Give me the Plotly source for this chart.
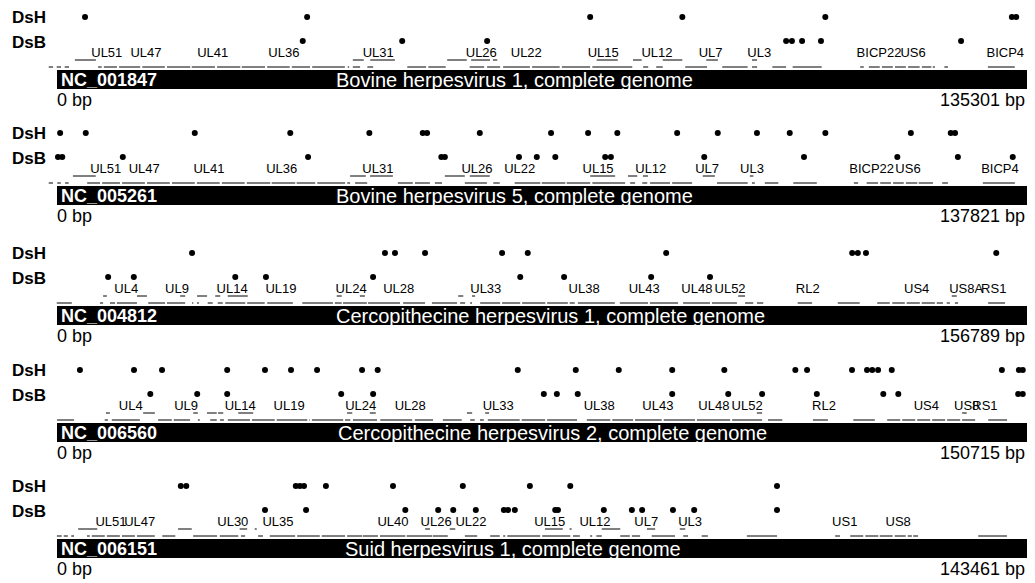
import plotly.graph_objects as go

# The page body has an 8 px margin, so the figure is drawn 8 px smaller and all
# reference pixel positions are shifted by that margin.
WIN_W, WIN_H, PAGE_MARGIN = 1035, 583, 8
WF, HF = WIN_W - PAGE_MARGIN, WIN_H - PAGE_MARGIN
AX_X0, AX_X1 = 48, 1030      # window-pixel extent of the genome coordinate axis
BAR_X0, BAR_X1 = 57, 1030    # window-pixel extent of the black genome banner


def px(xpix):
    return (xpix - PAGE_MARGIN) / WF


# ---------------- data (positions in kb) ----------------
accessions = ["NC_001847", "NC_005261", "NC_004812", "NC_006560", "NC_006151"]
titles = ["Bovine herpesvirus 1, complete genome",
          "Bovine herpesvirus 5, complete genome",
          "Cercopithecine herpesvirus 1, complete genome",
          "Cercopithecine herpesvirus 2, complete genome",
          "Suid herpesvirus 1, complete genome"]
genome_bp = [135301, 137821, 156789, 150715, 143461]

# Bovine herpesvirus 1
p1_dsh = [5.1, 35.7, 74.7, 87.4, 107.1, 132.8, 133.4]
p1_dsb = [35.1, 48.8, 60.5, 101.7, 102.5, 103.9, 106.5, 125.8]
p1_gene_names = ["UL51", "UL47", "UL41", "UL36", "UL31", "UL26", "UL22", "UL15", "UL12", "UL7", "UL3",
                 "BICP22", "US6", "BICP4"]
p1_gene_pos = [8.1, 13.5, 22.7, 32.5, 45.5, 59.7, 65.9, 76.5, 83.9, 91.3, 98.0, 114.5, 119.2, 131.9]
p1_genes_upper = [(3.7, 6.6), (42.0, 43.5), (44.4, 47.8), (55.0, 57.7), (58.3, 60.9), (61.3, 61.9),
                  (75.6, 78.5), (80.6, 81.8), (84.7, 87.4), (90.7, 92.3), (97.0, 97.7)]
p1_genes_lower = [(0.1, 0.7), (1.2, 1.8), (2.3, 2.9), (6.9, 7.4), (7.7, 9.5), (9.8, 12.7), (13.0, 16.1),
                  (16.4, 19.6), (19.8, 23.0), (23.3, 26.5), (26.7, 29.9), (30.2, 33.3), (33.6, 36.1),
                  (36.4, 40.9), (41.3, 41.5), (42.0, 43.0), (44.0, 44.8), (49.5, 52.1), (52.4, 54.8),
                  (58.1, 60.1), (60.5, 62.3), (62.7, 66.4), (66.7, 70.5), (70.8, 74.7), (75.0, 80.5),
                  (82.0, 82.7), (83.8, 84.7), (87.8, 90.8), (92.9, 96.4), (97.0, 97.7), (99.8, 101.7),
                  (102.6, 106.6), (111.9, 112.4), (113.1, 114.6), (114.9, 116.4), (116.7, 118.2),
                  (118.5, 120.1), (120.4, 121.7), (121.9, 122.2), (123.5, 124.0), (129.5, 133.2)]

# Bovine herpesvirus 5
p2_dsh = [1.7, 5.3, 20.6, 34.0, 45.1, 52.6, 53.2, 60.6, 70.6, 75.8, 79.9, 88.3, 94.0, 99.5, 104.1,
          109.1, 121.1, 126.7, 127.3]
p2_dsb = [1.4, 2.0, 10.5, 36.5, 55.2, 55.7, 66.1, 68.6, 71.2, 78.2, 79.0, 92.1, 106.1, 119.2, 127.7, 135.4]
p2_gene_names = ["UL51", "UL47", "UL41", "UL36", "UL31", "UL26", "UL22", "UL15", "UL12", "UL7", "UL3",
                 "BICP22", "US6", "BICP4"]
p2_gene_pos = [8.1, 13.5, 22.6, 32.8, 46.3, 60.2, 66.2, 77.2, 84.6, 92.5, 98.8, 115.6, 120.7, 133.6]
p2_genes_upper = [(3.5, 6.7), (42.4, 44.6), (45.2, 48.4), (55.7, 58.5), (59.2, 62.0), (76.1, 79.6),
                  (81.4, 82.7), (83.5, 84.2), (91.9, 93.6), (98.5, 99.0)]
p2_genes_lower = [(0.1, 0.7), (1.3, 1.8), (2.4, 2.9), (5.5, 7.3), (7.6, 10.1), (10.4, 13.6), (13.9, 17.1),
                  (17.4, 20.6), (20.9, 24.1), (24.4, 27.6), (27.9, 31.2), (31.4, 34.7), (34.9, 37.5),
                  (37.8, 41.7), (42.0, 42.4), (43.1, 44.8), (49.1, 51.2), (51.5, 53.6), (54.3, 55.3),
                  (58.5, 61.6), (62.5, 63.4), (65.5, 69.1), (69.3, 72.6), (72.8, 76.1), (76.4, 81.0),
                  (81.7, 82.4), (83.4, 84.1), (84.5, 87.3), (87.6, 90.4), (93.9, 98.2), (98.8, 99.2),
                  (100.6, 102.5), (104.6, 107.9), (113.1, 113.7), (114.9, 116.5), (116.8, 118.3),
                  (118.6, 120.1), (120.4, 122.0), (122.2, 124.2), (125.5, 126.3), (131.2, 135.7)]

# Cercopithecine herpesvirus 1
p3_dsh = [23.0, 53.8, 55.4, 60.2, 72.5, 76.6, 98.7, 128.4, 129.3, 130.6, 151.4]
p3_dsb = [9.6, 13.7, 29.9, 34.8, 51.9, 75.4, 82.4, 96.3, 105.7]
p3_gene_names = ["UL4", "UL9", "UL14", "UL19", "UL24", "UL28", "UL33", "UL38", "UL43", "UL48", "UL52",
                 "RL2", "US4", "US8A", "RS1"]
p3_gene_pos = [12.5, 20.6, 29.4, 37.2, 48.4, 56.0, 69.9, 85.6, 95.2, 103.6, 108.9, 121.3, 138.7, 146.6, 151.0]
p3_genes_upper = [(8.8, 9.4), (14.2, 15.8), (21.1, 21.9), (23.8, 25.4), (26.7, 27.5), (28.7, 31.9),
                  (46.1, 46.9), (49.8, 50.6), (65.5, 66.3), (67.7, 68.2), (110.2, 111.3), (144.3, 145.1)]
p3_genes_lower = [(1.4, 3.8), (8.3, 8.8), (9.9, 10.7), (11.0, 14.2), (16.0, 18.7), (19.0, 21.9),
                  (23.0, 23.2), (23.8, 24.1), (25.5, 26.3), (27.1, 27.9), (28.3, 31.5), (31.8, 34.6),
                  (35.0, 39.1), (40.6, 45.5), (45.8, 46.9), (47.1, 50.9), (51.1, 56.2), (56.7, 60.2),
                  (61.3, 65.3), (65.8, 66.6), (67.4, 67.7), (69.0, 72.2), (72.5, 75.4), (75.7, 79.4),
                  (79.7, 83.0), (83.3, 84.1), (84.6, 90.5), (91.3, 95.8), (96.1, 100.6), (101.4, 105.7),
                  (106.0, 110.0), (111.3, 112.6), (113.2, 114.2), (119.7, 122.0), (126.1, 129.6),
                  (132.4, 134.4), (134.8, 136.8), (137.1, 139.2), (139.5, 141.6), (141.9, 142.9),
                  (143.5, 144.0), (144.8, 145.3), (150.1, 152.8)]

# Cercopithecine herpesvirus 2
p4_dsh = [4.9, 13.2, 17.5, 27.5, 33.3, 37.3, 41.3, 48.2, 50.6, 72.1, 81.0, 87.6, 95.8, 103.8, 114.7,
          116.5, 123.4, 125.7, 126.5, 127.4, 129.5, 146.4, 149.0, 149.6]
p4_dsb = [15.7, 22.9, 27.5, 45.0, 49.9, 76.1, 78.1, 81.3, 95.8, 104.4, 109.6, 118.0, 128.2, 130.5,
          148.9, 149.6]
p4_gene_names = ["UL4", "UL9", "UL14", "UL19", "UL24", "UL28", "UL33", "UL38", "UL43", "UL48", "UL52",
                 "RL2", "US4", "US8", "RS1"]
p4_gene_pos = [12.7, 21.2, 29.5, 37.0, 48.0, 55.6, 69.1, 84.6, 93.6, 102.2, 107.3, 119.1, 134.8, 141.0, 143.8]
p4_genes_upper = [(8.9, 9.5), (14.6, 16.4), (22.3, 23.0), (24.4, 25.9), (26.1, 26.9), (29.2, 31.5),
                  (45.9, 46.7), (49.4, 50.3), (64.3, 65.1), (67.1, 67.7), (108.8, 109.6), (140.3, 141.0)]
p4_genes_lower = [(1.4, 4.0), (8.7, 9.2), (9.8, 14.1), (16.9, 19.0), (19.3, 21.8), (23.0, 23.3),
                  (24.9, 25.9), (26.4, 27.0), (27.6, 31.0), (31.3, 34.8), (35.1, 39.8), (40.1, 40.2),
                  (40.5, 45.3), (45.6, 46.4), (46.8, 50.5), (51.0, 55.9), (56.3, 59.1), (60.6, 63.5),
                  (64.8, 65.5), (66.3, 66.9), (67.5, 72.4), (72.7, 76.3), (76.6, 81.2), (82.7, 86.3),
                  (86.6, 89.8), (90.1, 94.2), (94.5, 99.3), (99.6, 104.7), (105.0, 109.6), (110.5, 112.7),
                  (117.4, 119.7), (123.6, 126.9), (128.8, 130.8), (131.1, 133.1), (133.4, 135.4),
                  (135.7, 137.7), (138.0, 140.0), (140.3, 142.3), (144.3, 147.2)]

# Suid herpesvirus 1
p5_dsh = [19.4, 20.2, 36.2, 36.8, 37.4, 40.6, 50.4, 60.6, 70.4, 76.3, 106.5]
p5_dsb = [31.7, 37.7, 52.2, 57.0, 59.2, 62.5, 66.6, 67.2, 68.2, 74.1, 74.5, 81.2, 85.3, 86.8, 91.3, 94.4, 106.5]
p5_gene_names = ["UL51", "UL47", "UL30", "UL35", "UL40", "UL26", "UL22", "UL15", "UL12", "UL7", "UL3",
                 "US1", "US8"]
p5_gene_pos = [9.2, 13.4, 27.0, 33.6, 50.4, 56.7, 61.8, 73.3, 79.9, 87.4, 93.8, 116.4, 124.2]
p5_genes_upper = [(4.4, 7.2), (19.0, 21.0), (28.0, 29.1), (30.2, 30.5), (55.1, 55.8), (58.7, 59.5),
                  (72.6, 75.2), (76.2, 76.5), (80.9, 83.6), (87.5, 88.7), (92.3, 93.1)]
p5_genes_lower = [(1.3, 2.0), (2.3, 2.9), (3.4, 3.8), (5.7, 6.1), (6.4, 8.3), (8.6, 10.5), (10.8, 12.7),
                  (13.0, 15.6), (16.7, 18.6), (21.2, 24.7), (25.1, 27.8), (28.2, 28.8), (30.7, 31.4),
                  (32.4, 36.1), (36.4, 39.7), (40.0, 43.4), (43.7, 45.9), (46.0, 48.2), (48.5, 52.2),
                  (52.4, 56.1), (56.2, 58.4), (60.9, 62.7), (64.6, 66.0), (66.5, 66.8), (67.1, 71.9),
                  (72.2, 76.3), (76.7, 77.7), (79.2, 79.5), (80.1, 80.9), (83.6, 85.0), (85.3, 86.5),
                  (88.2, 91.6), (92.8, 93.5), (95.5, 96.4), (102.1, 106.5), (115.0, 115.7), (117.2, 119.1),
                  (119.4, 121.3), (121.5, 123.4), (123.7, 125.3), (125.6, 126.2), (126.4, 127.1),
                  (135.9, 140.1)]

panels = [
    (p1_dsh, p1_dsb, p1_gene_names, p1_gene_pos, p1_genes_upper, p1_genes_lower),
    (p2_dsh, p2_dsb, p2_gene_names, p2_gene_pos, p2_genes_upper, p2_genes_lower),
    (p3_dsh, p3_dsb, p3_gene_names, p3_gene_pos, p3_genes_upper, p3_genes_lower),
    (p4_dsh, p4_dsb, p4_gene_names, p4_gene_pos, p4_genes_upper, p4_genes_lower),
    (p5_dsh, p5_dsb, p5_gene_names, p5_gene_pos, p5_genes_upper, p5_genes_lower),
]

# ---------------- layout constants (window pixels from top) ----------------
panel_top = [0, 116, 236, 353, 469]
title_center_px = [514, 514, 550, 552, 513]
ROW_DSH, ROW_DSB, ROW_LABEL, ROW_UP, ROW_LOW = 17, 41, 54, 60, 67
BAR_TOP, BAR_BOT, ROW_BP = 70, 89, 100

SANS = "Liberation Sans, Arial, sans-serif"
NARROW = "Liberation Sans Narrow, Arial Narrow, Liberation Sans, Arial, sans-serif"


def segs_xy(segs, y):
    xs, ys = [], []
    for a, b in segs:
        xs += [a, b, None]
        ys += [y, y, None]
    return xs, ys


fig = go.Figure()
layout_axes = {}
shapes, annotations = [], []

for i, (dsh, dsb, gnames, gpos, gup, glow) in enumerate(panels):
    off = panel_top[i]
    xa = "x" if i == 0 else f"x{i + 1}"
    axkey = "xaxis" if i == 0 else f"xaxis{i + 1}"
    layout_axes[axkey] = dict(domain=[px(AX_X0), px(AX_X1)], range=[0, genome_bp[i] / 1000],
                              visible=False, anchor="y", fixedrange=True)

    # gene segments
    for segs, row in ((gup, ROW_UP), (glow, ROW_LOW)):
        xs, ys = segs_xy(segs, off + row)
        fig.add_trace(go.Scatter(x=xs, y=ys, xaxis=xa, yaxis="y", mode="lines",
                                 line=dict(color="black", width=1), hoverinfo="skip",
                                 showlegend=False))
    # gene labels
    fig.add_trace(go.Scatter(x=gpos, y=[off + ROW_LABEL] * len(gpos), xaxis=xa, yaxis="y",
                             mode="text", text=gnames, textposition="middle center",
                             textfont=dict(family=NARROW, size=13, color="black"),
                             hoverinfo="skip", showlegend=False, cliponaxis=False))
    # DsH / DsB dots
    for vals, row in ((dsh, ROW_DSH), (dsb, ROW_DSB)):
        fig.add_trace(go.Scatter(x=vals, y=[off + row] * len(vals), xaxis=xa, yaxis="y",
                                 mode="markers", marker=dict(color="black", size=6),
                                 hoverinfo="skip", showlegend=False, cliponaxis=False))

    # banner
    shapes.append(dict(type="rect", xref="paper", yref="y", x0=px(BAR_X0), x1=px(BAR_X1),
                       y0=off + BAR_TOP, y1=off + BAR_BOT, fillcolor="black", line=dict(width=0),
                       layer="below"))
    annotations += [
        dict(text="<b>DsH</b>", x=px(10), y=off + ROW_DSH, xanchor="left", yanchor="middle",
             font=dict(family=SANS, size=17, color="black")),
        dict(text="<b>DsB</b>", x=px(10), y=off + ROW_DSB + 1, xanchor="left", yanchor="middle",
             font=dict(family=SANS, size=17, color="black")),
        dict(text=f"<b>{accessions[i]}</b>", x=px(59), y=off + (BAR_TOP + BAR_BOT) / 2 + 0.5,
             xanchor="left", yanchor="middle", font=dict(family=SANS, size=18, color="white")),
        dict(text=titles[i], x=px(title_center_px[i]), y=off + (BAR_TOP + BAR_BOT) / 2 + 0.5,
             xanchor="center", yanchor="middle", font=dict(family=SANS, size=20, color="white")),
        dict(text="0 bp", x=px(BAR_X0 - 2), y=off + ROW_BP, xanchor="left", yanchor="middle",
             font=dict(family=SANS, size=18, color="black")),
        dict(text=f"{genome_bp[i]} bp", x=px(1027), y=off + ROW_BP, xanchor="right", yanchor="middle",
             font=dict(family=SANS, size=18, color="black")),
    ]

for a in annotations:
    a.update(xref="paper", yref="y", showarrow=False)

fig.update_layout(
    width=WF, height=HF, margin=dict(l=0, r=0, t=0, b=0),
    paper_bgcolor="white", plot_bgcolor="rgba(0,0,0,0)",
    yaxis=dict(domain=[0, 1], range=[WIN_H, PAGE_MARGIN], visible=False, fixedrange=True),
    shapes=shapes, annotations=annotations, showlegend=False,
    **layout_axes,
)

fig.write_html("out.html")
